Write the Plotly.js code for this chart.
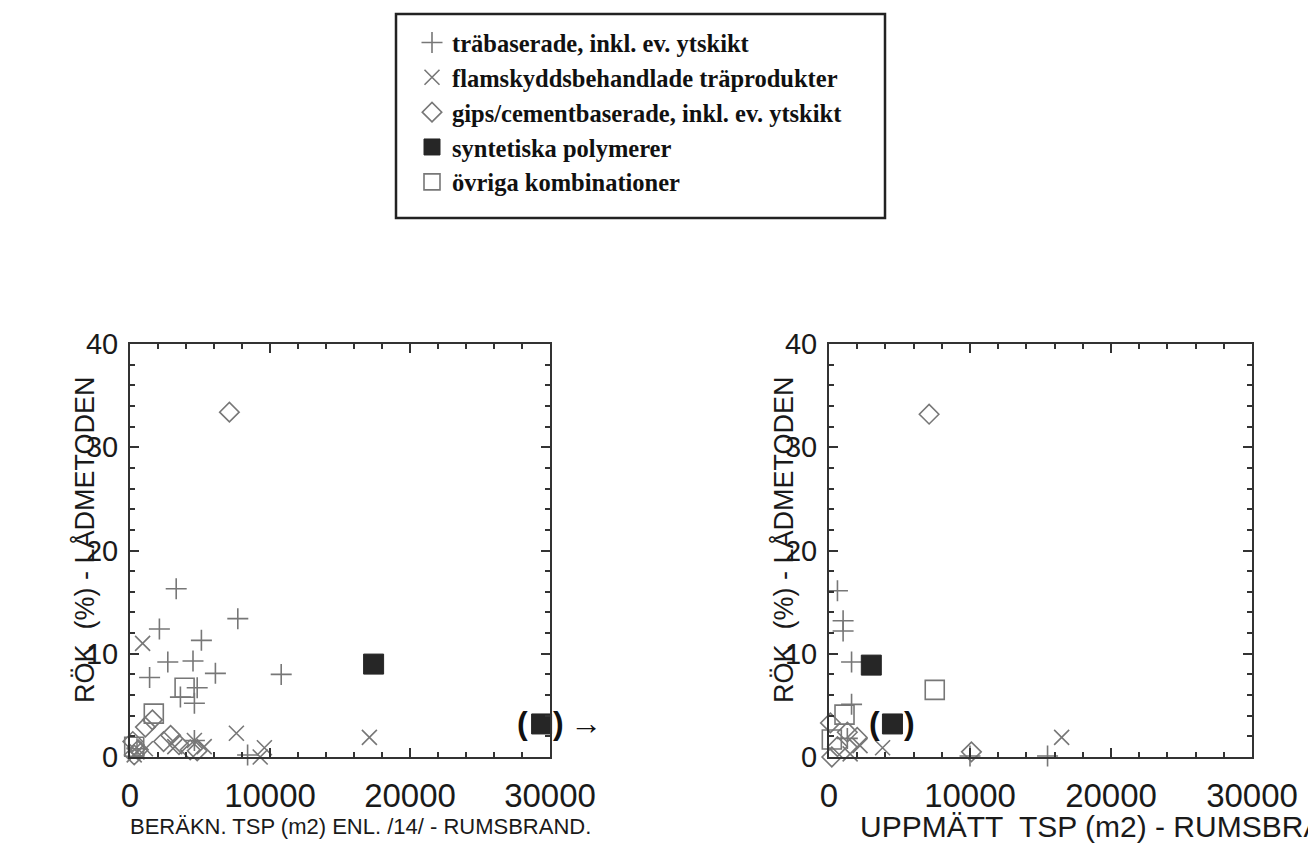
<!DOCTYPE html>
<html>
<head>
<meta charset="utf-8">
<script src="https://cdn.plot.ly/plotly-3.0.1.min.js"></script>
<style>html,body{margin:0;padding:0;background:#fff;}#chart{width:1308px;height:845px;}</style>
</head>
<body>
<div id="chart"></div>
<script>
// ---- Series names ----
const seriesNames = [
  "träbaserade, inkl. ev. ytskikt",
  "flamskyddsbehandlade träprodukter",
  "gips/cementbaserade, inkl. ev. ytskikt",
  "syntetiska polymerer",
  "övriga kombinationer"
];

// ---- Left panel: beräknad TSP (m2) vs rök (%) ----
const traX1 = [3300, 7700, 2100, 5100, 2700, 4500, 6100, 10800, 1400, 4800, 3600, 4600, 4600, 8400, 500];
const traY1 = [16.3, 13.4, 12.4, 11.3, 9.2, 9.3, 8.1, 8.0, 7.7, 6.7, 5.8, 5.2, 1.6, 0.2, 0.8];
const flamX1 = [900, 7600, 17100, 9600, 9300, 4600, 5300, 500, 1100, 3200, 300];
const flamY1 = [11.0, 2.3, 1.9, 0.9, 0.0, 1.6, 1.0, 0.5, 0.8, 1.0, 0.2];
const gipsX1 = [7100, 1600, 2900, 1100, 2400, 200, 600, 4300, 3500, 4800, 300];
const gipsY1 = [33.4, 3.6, 2.1, 2.9, 1.5, 1.5, 0.7, 0.7, 1.2, 0.6, 0.2];
const polyX1 = [17400, 29400];
const polyY1 = [9.0, 3.2];
const ovrX1 = [3900, 1700, 300];
const ovrY1 = [6.7, 4.2, 1.0];

// ---- Right panel: uppmätt TSP (m2) vs rök (%) ----
const traX2 = [600, 1000, 1000, 1600, 1600, 1300, 15500, 10000];
const traY2 = [16.1, 13.2, 12.2, 9.2, 5.1, 1.8, 0.1, 0.1];
const flamX2 = [16500, 3800, 2200, 1500];
const flamY2 = [1.9, 0.9, 1.1, 0.3];
const gipsX2 = [7100, 10100, 2000, 1300, 100, 200, 600];
const gipsY2 = [33.2, 0.5, 1.9, 2.4, 3.3, 0.0, 1.0];
const polyX2 = [3000, 4500];
const polyY2 = [8.9, 3.2];
const ovrX2 = [7500, 1100, 200];
const ovrY2 = [6.5, 4.1, 1.7];

// ---- Axis ticks ----
const xTicks = [0, 10000, 20000, 30000];
const yTicks = [0, 10, 20, 30, 40];

// ---- Titles ----
const yTitle = "RÖK  (%) - LÅDMETODEN";
const xTitle1 = "BERÄKN. TSP (m2) ENL. /14/ - RUMSBRAND.";
const xTitle2 = "UPPMÄTT  TSP (m2) - RUMSBRAND.";

const SANS = "Liberation Sans, Arial, Helvetica, sans-serif";
const SERIF = "Liberation Serif, Times New Roman, serif";
const GRAY = "#777777";
const DARK = "#262626";

const styles = [
  {symbol: "cross-thin-open", size: 15, color: GRAY, line: {color: GRAY, width: 1.6}},
  {symbol: "x-thin-open", size: 15, color: GRAY, line: {color: GRAY, width: 1.6}},
  {symbol: "diamond-open", size: 15, color: GRAY, line: {color: GRAY, width: 1.6}},
  {symbol: "square", size: 20, color: DARK, line: {color: DARK, width: 1}},
  {symbol: "square-open", size: 19, color: GRAY, line: {color: GRAY, width: 1.6}}
];

function tr(x, y, k, xa, ya, legend) {
  return {
    type: "scatter", mode: "markers", x: x, y: y,
    xaxis: xa, yaxis: ya, name: seriesNames[k],
    showlegend: legend, legendrank: k + 1, cliponaxis: false,
    marker: styles[k], hoverinfo: "x+y"
  };
}

const data = [
  tr(traX1, traY1, 0, "x", "y", true),
  tr(flamX1, flamY1, 1, "x", "y", true),
  tr(gipsX1, gipsY1, 2, "x", "y", true),
  tr(polyX1, polyY1, 3, "x", "y", true),
  tr(ovrX1, ovrY1, 4, "x", "y", true),
  tr(traX2, traY2, 0, "x2", "y2", false),
  tr(flamX2, flamY2, 1, "x2", "y2", false),
  tr(gipsX2, gipsY2, 2, "x2", "y2", false),
  tr(polyX2, polyY2, 3, "x2", "y2", false),
  tr(ovrX2, ovrY2, 4, "x2", "y2", false)
];

const W = 1308, H = 845;
const px = v => v / W;
const py = v => 1 - v / H;

function xAxis(domain, anchor) {
  return {
    domain: domain, anchor: anchor, range: [0, 30000],
    tickvals: xTicks, ticktext: xTicks.map(String),
    showline: true, linecolor: "#333", linewidth: 2, mirror: "ticks",
    ticks: "inside", ticklen: 9, tickwidth: 2, tickcolor: "#333",
    minor: {dtick: 2000, ticks: "inside", ticklen: 5, tickwidth: 2, tickcolor: "#333"},
    showgrid: false, zeroline: false, ticklabelstandoff: 8,
    tickfont: {family: SANS, size: 33, color: "#1a1a1a"}
  };
}
function yAxis(domain, anchor) {
  return {
    domain: domain, anchor: anchor, range: [0, 40],
    tickvals: yTicks, ticktext: yTicks.map(String),
    showline: true, linecolor: "#333", linewidth: 2, mirror: "ticks",
    ticks: "inside", ticklen: 9, tickwidth: 2, tickcolor: "#333",
    minor: {dtick: 2, ticks: "inside", ticklen: 5, tickwidth: 2, tickcolor: "#333"},
    showgrid: false, zeroline: false, ticklabelstandoff: 4,
    tickfont: {family: SANS, size: 29, color: "#1a1a1a"}
  };
}

const yDom = [py(757), py(344)];

function parenAnn(x, y, xa, ya, txt, shift) {
  return {x: x, y: y, xref: xa, yref: ya, text: txt, showarrow: false,
    xanchor: "center", yanchor: "middle",
    xshift: shift, yshift: 1, font: {family: SANS, size: 32, color: "#111", weight: "bold"}};
}

const layout = {
  width: W, height: H,
  margin: {l: 0, r: 0, t: 0, b: 0},
  paper_bgcolor: "#fff", plot_bgcolor: "#fff",
  showlegend: true,
  legend: {
    x: px(412), y: py(20), xanchor: "left", yanchor: "top",
    bgcolor: "rgba(0,0,0,0)", borderwidth: 0,
    font: {family: SERIF, size: 24.5, color: "#111", weight: "bold"},
    itemclick: false, itemdoubleclick: false
  },
  xaxis: xAxis([px(130), px(550)], "y"),
  yaxis: yAxis(yDom, "x"),
  xaxis2: xAxis([px(829), px(1252)], "y2"),
  yaxis2: yAxis(yDom, "x2"),
  shapes: [
    {type: "rect", xref: "paper", yref: "paper", x0: px(396), x1: px(885), y0: py(218), y1: py(14),
     line: {color: "#222", width: 2.5}, fillcolor: "rgba(0,0,0,0)"}
  ],
  annotations: [
    {xref: "paper", yref: "paper", x: px(84), y: py(540), xanchor: "center", yanchor: "middle",
     text: yTitle, textangle: -90, showarrow: false,
     font: {family: SANS, size: 27, color: "#1a1a1a"}},
    {xref: "paper", yref: "paper", x: px(783), y: py(540), xanchor: "center", yanchor: "middle",
     text: yTitle, textangle: -90, showarrow: false,
     font: {family: SANS, size: 27, color: "#1a1a1a"}},
    {xref: "paper", yref: "paper", x: px(360), y: py(826), xanchor: "center", yanchor: "middle",
     text: xTitle1, showarrow: false,
     font: {family: SANS, size: 22, color: "#1a1a1a"}},
    {xref: "paper", yref: "paper", x: px(858), y: py(826), xanchor: "left", yanchor: "middle",
     text: xTitle2, showarrow: false,
     font: {family: SANS, size: 30, color: "#1a1a1a"}},
    parenAnn(polyX1[1], polyY1[1], "x", "y", "(", -19),
    parenAnn(polyX1[1], polyY1[1], "x", "y", ")", 17),
    parenAnn(polyX1[1], polyY1[1], "x", "y", "→", 44),
    parenAnn(polyX2[1], polyY2[1], "x2", "y2", "(", -18),
    parenAnn(polyX2[1], polyY2[1], "x2", "y2", ")", 17)
  ]
};

Plotly.newPlot("chart", data, layout, {staticPlot: true, displayModeBar: false});
</script>
</body>
</html>
